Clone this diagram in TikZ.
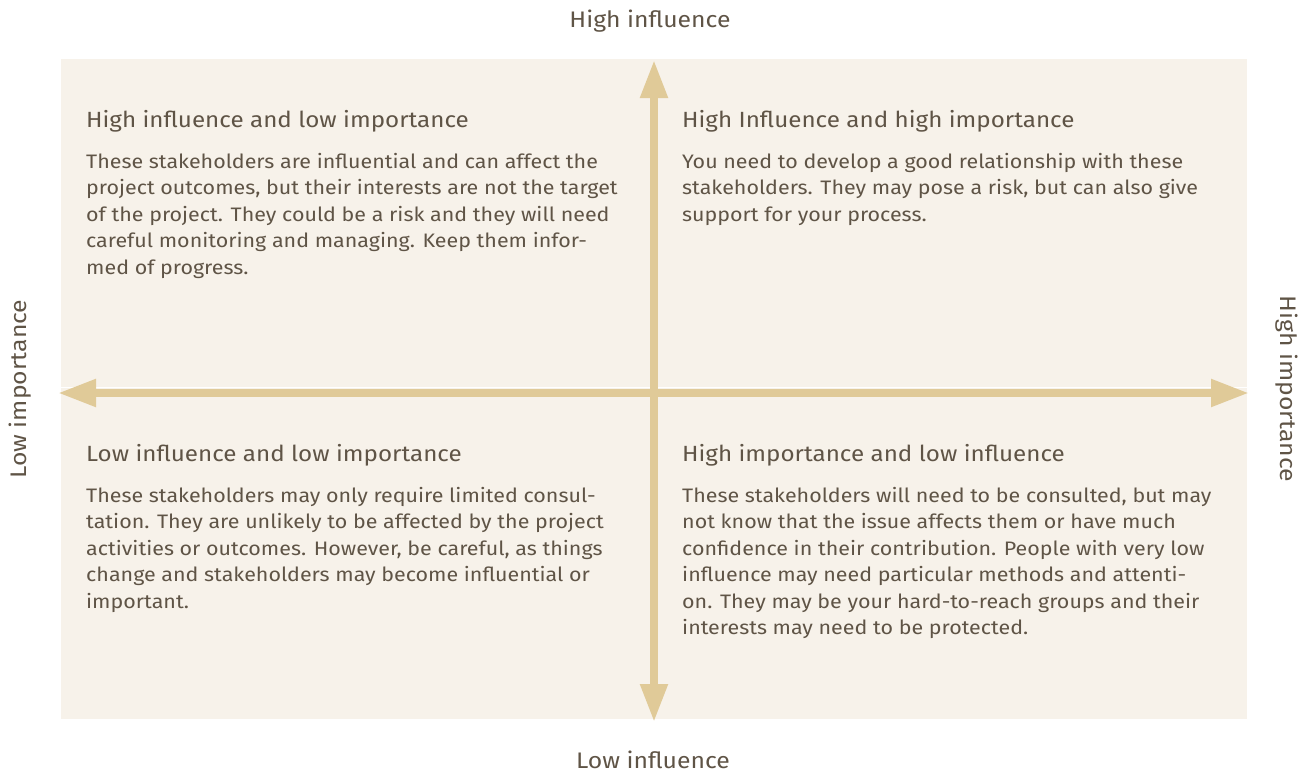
\documentclass[tikz,border=0pt]{standalone}
\usepackage{fontspec}
\setmainfont{Fira Sans}[FakeStretch=1.1]
\usetikzlibrary{arrows.meta}
\definecolor{panel}{HTML}{F7F2EA}
\definecolor{axis}{HTML}{E0CA98}
\definecolor{ink}{HTML}{5F5446}
\tikzset{
  title/.style={anchor=base west, inner sep=0pt, text=ink, font={\fontsize{22}{27}\selectfont}},
  body/.style={anchor=base west, inner sep=0pt, text=ink, align=left, font={\fontsize{19.5}{26.5}\selectfont}},
  axislabel/.style={inner sep=0pt, text=ink, font={\fontsize{22.5}{26}\selectfont}},
  axisarrow/.style={draw=axis, line width=8pt, {Triangle[length=38pt,width=26pt]}-{Triangle[length=38pt,width=26pt]}}
}
\begin{document}
\begin{tikzpicture}[x=1pt,y=-1pt]
\useasboundingbox (0,0) rectangle (1307,776);
% panel (two halves with a hairline gap)
\fill[panel] (61,59) rectangle (1247,386.8);
\fill[panel] (61,388.3) rectangle (1247,719);
% axes
\coordinate (top) at (654,60);
\coordinate (bottom) at (654,722);
\coordinate (left) at (58,393);
\coordinate (right) at (1249,393);
\draw[axisarrow] (top) -- (bottom);
\draw[axisarrow] (left) -- (right);
% axis labels
\node[axislabel, anchor=base] (hi) at (650,28) {High influence};
\node[axislabel, anchor=base] (lo) at (653,768) {Low influence};
\node[axislabel, anchor=base, rotate=90] (limp) at (26,389) {Low importance};
\node[axislabel, anchor=base, rotate=-90] (himp) at (1280,389) {High importance};
% top left
\node[title] (t1) at (86,128) {High influence and low importance};
\node[body] (b1) at (86,274) {These stakeholders are influential and can affect the\\
project outcomes, but their interests are not the target\\
of the project. They could be a risk and they will need\\
careful monitoring and managing. Keep them infor-\\
med of progress.};
% top right
\node[title] (t2) at (682,128) {High Influence and high importance};
\node[body] (b2) at (682,221) {You need to develop a good relationship with these\\
stakeholders. They may pose a risk, but can also give\\
support for your process.};
% bottom left
\node[title] (t3) at (86,461) {Low influence and low importance};
\node[body] (b3) at (86,608) {These stakeholders may only require limited consul-\\
tation. They are unlikely to be affected by the project\\
activities or outcomes. However, be careful, as things\\
change and stakeholders may become influential or\\
important.};
% bottom right
\node[title] (t4) at (682,461) {High importance and low influence};
\node[body] (b4) at (682,634.5) {These stakeholders will need to be consulted, but may\\
not know that the issue affects them or have much\\
confidence in their contribution. People with very low\\
influence may need particular methods and attenti-\\
on. They may be your hard-to-reach groups and their\\
interests may need to be protected.};
\end{tikzpicture}
\end{document}
